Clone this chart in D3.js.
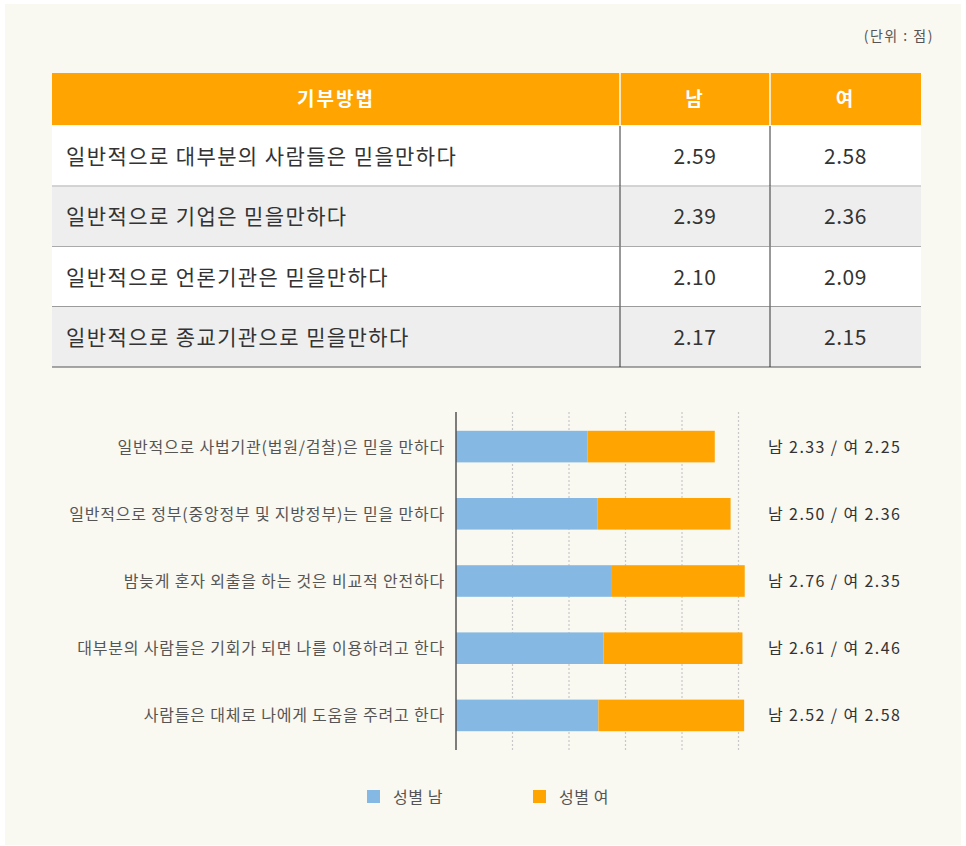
<!DOCTYPE html>
<html>
<head>
<meta charset="utf-8">
<script src="https://cdn.jsdelivr.net/npm/d3@7"></script>
<style>
  html, body { margin: 0; padding: 0; background: #fff; }
  svg { display: block; font-family: "Noto Sans CJK KR", "Noto Sans", sans-serif; }
</style>
</head>
<body>
<svg id="chart" width="966" height="846"></svg>
<script>
// table data
var tableHeader = ['기부방법', '남', '여']
  , tableRows = [
      '일반적으로 대부분의 사람들은 믿을만하다',
      '일반적으로 기업은 믿을만하다',
      '일반적으로 언론기관은 믿을만하다',
      '일반적으로 종교기관으로 믿을만하다'
    ]
  , tableMale = ['2.59', '2.39', '2.10', '2.17']
  , tableFemale = ['2.58', '2.36', '2.09', '2.15']

// bar chart data
var barCategories = [
      '일반적으로 사법기관(법원/검찰)은 믿을 만하다',
      '일반적으로 정부(중앙정부 및 지방정부)는 믿을 만하다',
      '밤늦게 혼자 외출을 하는 것은 비교적 안전하다',
      '대부분의 사람들은 기회가 되면 나를 이용하려고 한다',
      '사람들은 대체로 나에게 도움을 주려고 한다'
    ]
  , maleValues = [2.33, 2.50, 2.76, 2.61, 2.52]
  , femaleValues = [2.25, 2.36, 2.35, 2.46, 2.58]
  , seriesNames = ['성별 남', '성별 여']
  , gridTicks = [1, 2, 3, 4, 5]

var orange = '#ffa400'
  , blue = '#85b9e3'

var svg = d3.select('#chart')

// panel background
svg.append('rect').attr('x', 5).attr('y', 4).attr('width', 956).attr('height', 841)
  .attr('fill', '#f9f8f1')

svg.append('text').attr('x', 934).attr('y', 41).attr('text-anchor', 'end')
  .attr('font-size', 14).attr('letter-spacing', 1.5).attr('fill', '#555').text('(단위 : 점)')

// ---- table ----
var tx = 52, tw = 869
  , colX = d3.scaleOrdinal().domain([0, 1, 2]).range([52, 620, 770])
  , colW = [568, 150, 151]
  , headerY = 73, headerH = 52
  , rowY = d3.scaleBand().domain(d3.range(tableRows.length)).range([126, 367]).paddingInner(0)

var table = svg.append('g')

table.append('rect').attr('x', tx).attr('y', headerY).attr('width', tw).attr('height', headerH)
  .attr('fill', orange)
tableHeader.forEach(function(h, i) {
  table.append('text').attr('x', colX(i) + colW[i] / 2).attr('y', headerY + headerH / 2 + 7)
    .attr('text-anchor', 'middle').attr('font-size', 19).attr('font-weight', 'bold')
    .attr('letter-spacing', 2).attr('fill', '#fff').text(h)
})
;[1, 2].forEach(function(i) {
  table.append('line').attr('x1', colX(i)).attr('x2', colX(i))
    .attr('y1', headerY).attr('y2', headerY + headerH).attr('stroke', '#fff').attr('stroke-width', 1.5)
})

var rows = table.selectAll('g.row').data(tableRows).enter().append('g')
  .attr('transform', function(d, i) { return 'translate(0,' + rowY(i) + ')' })

rows.append('rect').attr('x', tx).attr('width', tw).attr('height', rowY.bandwidth())
  .attr('fill', function(d, i) { return i % 2 ? '#eeeeee' : '#ffffff' })
rows.append('text').attr('x', 66).attr('y', rowY.bandwidth() / 2 + 8)
  .attr('font-size', 21).attr('letter-spacing', 1.4).attr('fill', '#333')
  .text(function(d) { return d })
rows.append('text').attr('x', colX(1) + colW[1] / 2).attr('y', rowY.bandwidth() / 2 + 8)
  .attr('text-anchor', 'middle').attr('font-size', 21).attr('letter-spacing', 0.5).attr('fill', '#333')
  .text(function(d, i) { return tableMale[i] })
rows.append('text').attr('x', colX(2) + colW[2] / 2).attr('y', rowY.bandwidth() / 2 + 8)
  .attr('text-anchor', 'middle').attr('font-size', 21).attr('letter-spacing', 0.5).attr('fill', '#333')
  .text(function(d, i) { return tableFemale[i] })
rows.append('line').attr('x1', tx).attr('x2', tx + tw)
  .attr('y1', rowY.bandwidth()).attr('y2', rowY.bandwidth())
  .attr('stroke', '#555').attr('stroke-width', 1.2)
;[1, 2].forEach(function(i) {
  rows.append('line').attr('x1', colX(i)).attr('x2', colX(i))
    .attr('y1', 0).attr('y2', rowY.bandwidth()).attr('stroke', '#333').attr('stroke-width', 1)
})

// ---- stacked bar chart ----
var x = d3.scaleLinear().domain([0, 6]).range([456, 456 + 6 * 56.5])
  , y = d3.scaleBand().domain(d3.range(barCategories.length)).range([414, 748]).paddingInner(0.53).paddingOuter(0.25)

var chart = svg.append('g')

chart.selectAll('line.grid').data(gridTicks).enter().append('line')
  .attr('x1', function(d) { return x(d) }).attr('x2', function(d) { return x(d) })
  .attr('y1', 412).attr('y2', 750)
  .attr('stroke', '#c8c8c8').attr('stroke-width', 1.2).attr('stroke-dasharray', '2,2')

chart.selectAll('rect.male').data(maleValues).enter().append('rect')
  .attr('x', x(0)).attr('y', function(d, i) { return y(i) })
  .attr('width', function(d) { return x(d) - x(0) }).attr('height', y.bandwidth())
  .attr('fill', blue)

chart.selectAll('rect.female').data(femaleValues).enter().append('rect')
  .attr('x', function(d, i) { return x(maleValues[i]) }).attr('y', function(d, i) { return y(i) })
  .attr('width', function(d, i) { return x(maleValues[i] + d) - x(maleValues[i]) })
  .attr('height', y.bandwidth())
  .attr('fill', orange)

chart.append('line').attr('x1', x(0)).attr('x2', x(0)).attr('y1', 412).attr('y2', 750)
  .attr('stroke', '#555').attr('stroke-width', 1.5)

chart.selectAll('text.cat').data(barCategories).enter().append('text')
  .attr('x', 445).attr('y', function(d, i) { return y(i) + y.bandwidth() / 2 + 6 })
  .attr('text-anchor', 'end').attr('font-size', 16).attr('letter-spacing', 0.8).attr('fill', '#555')
  .text(function(d) { return d })

chart.selectAll('text.val').data(maleValues).enter().append('text')
  .attr('x', 768).attr('y', function(d, i) { return y(i) + y.bandwidth() / 2 + 6 })
  .attr('font-size', 16).attr('letter-spacing', 1.4).attr('fill', '#333')
  .text(function(d, i) { return '남 ' + d.toFixed(2) + ' / 여 ' + femaleValues[i].toFixed(2) })

// legend
var legend = svg.append('g').selectAll('g').data(seriesNames).enter().append('g')
  .attr('transform', function(d, i) { return 'translate(' + (367 + i * 166) + ',790)' })
legend.append('rect').attr('width', 13).attr('height', 13)
  .attr('fill', function(d, i) { return i ? orange : blue })
legend.append('text').attr('x', 26).attr('y', 13).attr('font-size', 16).attr('letter-spacing', 0.6)
  .attr('fill', '#555').text(function(d) { return d })
</script>
</body>
</html>
